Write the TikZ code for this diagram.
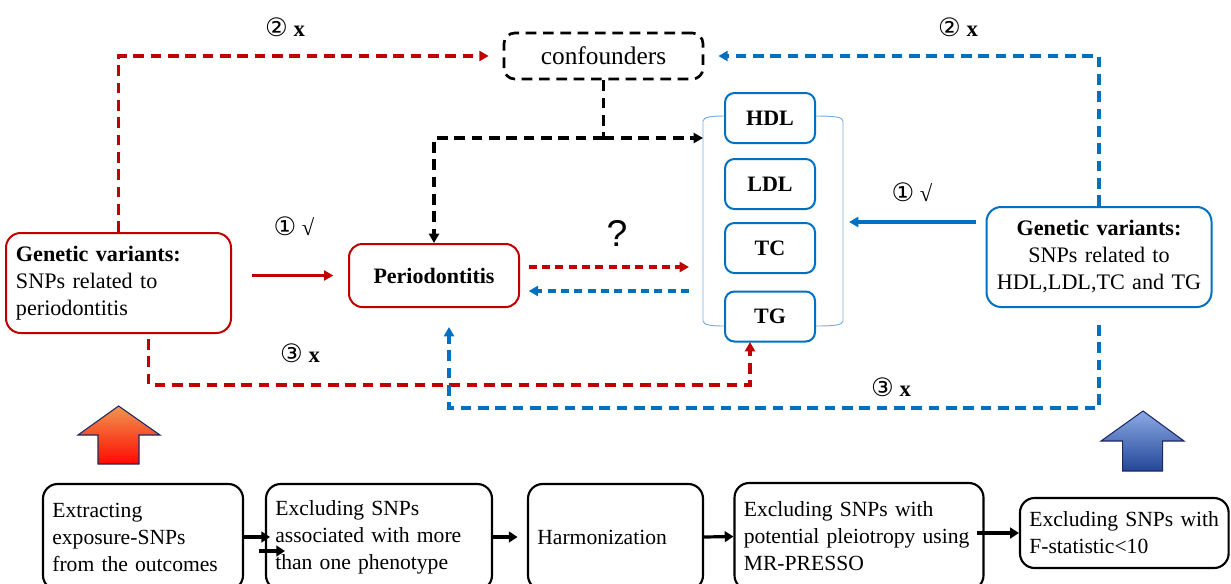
\documentclass[tikz,border=0pt]{standalone}
\usepackage{fontspec}
\setmainfont{Liberation Serif}
\newfontfamily\symfont{DejaVu Sans}
\newfontfamily\qfont{Liberation Sans}
\usetikzlibrary{arrows.meta,positioning}
\definecolor{mrred}{RGB}{192,0,0}
\definecolor{mrblue}{RGB}{0,112,192}
\definecolor{lipline}{RGB}{120,170,220}
\definecolor{uporange}{RGB}{240,150,80}
\definecolor{upred}{RGB}{255,10,0}
\definecolor{uplight}{RGB}{140,170,230}
\definecolor{updark}{RGB}{35,70,150}
\definecolor{upedge}{RGB}{30,40,100}

\tikzset{
  gvbox/.style={rounded corners=11pt, line width=1.5pt, minimum width=168.75pt, minimum height=75pt,
    inner xsep=7.5pt, text width=153.75pt, font=\fontsize{16.6}{20.25}\selectfont},
  periobox/.style={draw=mrred, rounded corners=10pt, line width=1.5pt, minimum width=127.5pt,
    minimum height=47.25pt, font=\fontsize{16.5}{20}\selectfont\bfseries},
  confbox/.style={draw, dash pattern=on 8pt off 5pt, rounded corners=8pt, line width=2pt,
    minimum width=149.25pt, minimum height=34.5pt, font=\fontsize{19}{22}\selectfont},
  lipbox/.style={draw=mrblue, rounded corners=7pt, line width=1.5pt, minimum width=67.5pt,
    minimum height=37.5pt, font=\fontsize{16.5}{20}\selectfont\bfseries},
  stepbox/.style={draw, rounded corners=11pt, line width=1.6pt, align=left, inner xsep=7pt,
    font=\fontsize{16.2}{20.25}\selectfont},
  marklabel/.style={font=\fontsize{17}{20}\selectfont},
  tip/.style={-{Triangle[length=7pt,width=7.5pt]}},
  reddash/.style={draw=mrred, line width=2.4pt, dash pattern=on 8pt off 5pt, tip},
  bluedash/.style={draw=mrblue, line width=2.4pt, dash pattern=on 8pt off 5pt, tip},
  blackdash/.style={draw=black, line width=2.4pt, dash pattern=on 8pt off 5pt},
  redsolid/.style={draw=mrred, line width=2.4pt, tip},
  bluesolid/.style={draw=mrblue, line width=2.4pt, tip},
  steparrow/.style={draw=black, line width=2.4pt, -{Triangle[length=6.5pt,width=8pt]}}
}

\begin{document}
\begin{tikzpicture}[x=0.75pt,y=0.75pt,yscale=-1,xscale=1]
\useasboundingbox (0,0) rectangle (1231,583);

% exposure / outcome boxes
\node [gvbox, draw=mrred, align=left] (gvL) at (118.5,283) {\textbf{Genetic variants:}\\SNPs related to\\periodontitis};
\node [periobox] (perio) at (434,275.5) {Periodontitis};
\node [confbox] (conf) at (603.5,56) {confounders};
\node [gvbox, draw=mrblue, align=center] (gvR) at (1099,257) {\textbf{Genetic variants:}\\SNPs related to\\HDL,LDL,TC and TG};

% lipid traits
\node [lipbox] (hdl) at (770,118) {HDL};
\node [lipbox] (ldl) at (770,184) {LDL};
\node [lipbox] (tc) at (770,248) {TC};
\node [lipbox] (tg) at (770,316.5) {TG};
\draw [lipline, line width=0.7pt] (hdl.west |- 0,116) .. controls (712,116) and (703,117) .. (703,121) -- (703,321) .. controls (703,325) and (712,326) .. (tg.west |- 0,326);
\draw [lipline, line width=0.7pt] (hdl.east |- 0,116) .. controls (834,116) and (843,117) .. (843,121) -- (843,321) .. controls (843,325) and (834,326) .. (tg.east |- 0,326);

% free ends
\coordinate (cjoin) at (603.5,138);
\coordinate (lipW) at (703,138);
\coordinate (qr) at (689,267);
\coordinate (qb) at (689,291);
\coordinate (b1) at (849,222);
\coordinate (r3) at (148.6,385);
\coordinate (tgin) at (750,342);
\coordinate (b3) at (449,327);

% assumption 2
\draw [reddash, shorten >=10.5pt] (gvL.north) |- (conf.west);
\draw [bluedash, shorten >=10.5pt] (gvR.north) |- (conf.east);
\draw [blackdash] (conf.south) -- (cjoin);
\draw [blackdash, tip] (cjoin) -| (perio.north);
\draw [blackdash, tip] (cjoin) -- (lipW);

% assumption 1
\draw [redsolid, shorten <=15pt, shorten >=11pt] (gvL.east |- perio.west) -- (perio.west);
\draw [bluesolid, shorten <=7pt] (gvR.west |- b1) -- (b1);

% causal direction
\draw [reddash, dash pattern=on 6pt off 4pt, shorten <=6.5pt] (perio.east |- qr) -- (qr);
\draw [bluedash, dash pattern=on 6pt off 4pt, shorten >=6.5pt] (qb) -- (perio.east |- qb);

% assumption 3
\draw [reddash, shorten <=3.75pt] (gvL.south -| r3) -- (r3) -| (tgin);
\draw [bluedash, shorten <=12.75pt] (gvR.south) -- ++(0,100) -| (b3);

% labels
\node [marklabel] (lab2L) at (285,27) {{\symfont\fontsize{19}{20}\selectfont ②} \textbf{x}};
\node [marklabel] (lab2R) at (958,27) {{\symfont\fontsize{19}{20}\selectfont ②} \textbf{x}};
\node [marklabel] (lab1L) at (294,226) {{\symfont\fontsize{19}{20}\selectfont ①} √};
\node [marklabel] (lab1R) at (912,192) {{\symfont\fontsize{19}{20}\selectfont ①} √};
\node [marklabel] (lab3L) at (300,353) {{\symfont\fontsize{19}{20}\selectfont ③} \textbf{x}};
\node [marklabel] (lab3R) at (891,387) {{\symfont\fontsize{19}{20}\selectfont ③} \textbf{x}};
\node [font=\fontsize{28}{28}\selectfont\qfont] (quest) at (617,233) {?};

% big up arrows
\shade [top color=uporange, bottom color=upred, draw=upedge, line width=0.8pt] (118.6,406) -- (160,435) -- (139,435) -- (139,464) -- (98,464) -- (98,435) -- (78,435) -- cycle;
\shade [top color=uplight, bottom color=updark, draw=upedge, line width=0.8pt] (1143,411) -- (1184,441) -- (1162.6,441) -- (1162.6,471) -- (1122.6,471) -- (1122.6,441) -- (1101,441) -- cycle;

% selection steps
\node [stepbox, text width=136pt, minimum height=79.5pt] (step1) at (143,537) {Extracting\\exposure-SNPs\\from the outcomes};
\node [stepbox, text width=155.5pt, minimum height=79.5pt] (step2) at (379,537) {Excluding SNPs\\associated with more\\than one phenotype};
\node [stepbox, text width=117.25pt, minimum height=79.5pt] (step3) at (615.5,537) {Harmonization};
\node [stepbox, text width=172.75pt, minimum height=80.25pt] (step4) at (859,536.5) {Excluding SNPs with\\potential pleiotropy using\\MR-PRESSO};
\node [stepbox, text width=142.5pt, minimum height=52.5pt] (step5) at (1124.3,533) {Excluding SNPs with\\F-statistic<10};

\coordinate (s1b) at (259,551);
\draw [steparrow] (step1.east) -- ++(26,0);
\draw [steparrow] (s1b) -- ++(26,0);
\draw [steparrow, shorten >=7pt] (step2.east) -- (step3.west);
\draw [steparrow] (step3.east) -- (step4.west);
\draw [steparrow, shorten <=-6pt] (step4.east |- step5.west) -- (step5.west);

\end{tikzpicture}
\end{document}
